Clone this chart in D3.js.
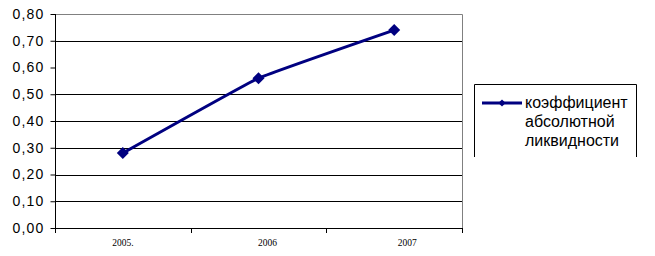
<!DOCTYPE html>
<html>
<head>
<meta charset="utf-8">
<script src="https://cdn.jsdelivr.net/npm/d3@7"></script>
<style>
  body { margin: 0; background: #fff; }
  svg { display: block; }
</style>
</head>
<body>
<svg id="chart" width="655" height="256"></svg>
<script>
// ----------- DATA -----------
const years = ["2005.", "2006", "2007"];
const values = [0.28, 0.56, 0.74];
const yTicks = [0, 0.1, 0.2, 0.3, 0.4, 0.5, 0.6, 0.7, 0.8];
const seriesName = ["коэффициент", "абсолютной", "ликвидности"];

// ----------- CHART -----------
const svg = d3.select("#chart");
const plotLeft = 55, plotRight = 462, plotTop = 14, plotBottom = 228;

const x = d3.scaleBand().domain(years).range([plotLeft, plotRight]);
const y = d3.scaleLinear().domain([0, 0.8]).range([plotBottom, plotTop]);

// grid lines (the 0,60 line does not show in the original)
svg.selectAll("line.grid")
  .data(yTicks.filter(d => d > 0 && d < 0.8 && Math.abs(d - 0.6) > 1e-9))
  .enter()
  .append("line")
  .attr("x1", plotLeft)
  .attr("x2", plotRight)
  .attr("y1", d => Math.round(y(d)) + 0.5)
  .attr("y2", d => Math.round(y(d)) + 0.5)
  .attr("stroke", "#000");

// plot area border, top and right
svg.append("path")
  .attr("d", `M${plotLeft},${plotTop + 0.5}H${plotRight + 0.5}V${plotBottom}`)
  .attr("fill", "none")
  .attr("stroke", "#808080");

// y axis
const yAxis = svg.append("g")
  .attr("transform", `translate(${plotLeft + 0.5},0)`)
  .call(d3.axisLeft(y).tickValues(yTicks).tickSize(5).tickPadding(6)
    .tickFormat(d => d3.format(".2f")(d).replace(".", ",")));
yAxis.select(".domain").attr("stroke", "#000").attr("d", `M0,${plotTop}V${plotBottom}`);
yAxis.selectAll(".tick line").attr("stroke", "#000");
yAxis.selectAll(".tick text")
  .attr("font-family", "Arial, 'Liberation Sans', sans-serif")
  .attr("font-size", 14)
  .attr("letter-spacing", 1.2)
  .attr("fill", "#000");

// x axis
const xAxis = svg.append("g")
  .attr("transform", `translate(0,${plotBottom + 0.5})`)
  .call(d3.axisBottom(x).tickSize(0).tickPadding(11));
xAxis.select(".domain").attr("stroke", "#000").attr("d", `M${plotLeft},0H${plotRight + 1}`);
xAxis.selectAll(".tick text")
  .attr("font-family", "'Times New Roman', 'Liberation Serif', serif")
  .attr("font-size", 9.5)
  .attr("fill", "#000")
  .attr("dx", (d, i) => [0, 9, 13][i]);

// category separators on the x axis
const edges = years.map(d => x(d)).concat([x(years[years.length - 1]) + x.bandwidth()]);
svg.selectAll("line.xtick")
  .data(edges)
  .enter()
  .append("line")
  .attr("x1", d => Math.round(d) + 0.5)
  .attr("x2", d => Math.round(d) + 0.5)
  .attr("y1", plotBottom)
  .attr("y2", plotBottom + 5)
  .attr("stroke", "#000");

// series line, lightly smoothed
const line = d3.line()
  .x((d, i) => x(years[i]) + x.bandwidth() / 2)
  .y(d => y(d))
  .curve(d3.curveCardinal.tension(0.75));

svg.append("path")
  .datum(values)
  .attr("d", line)
  .attr("fill", "none")
  .attr("stroke", "#000080")
  .attr("stroke-width", 3);

const diamond = d3.symbol().type(d3.symbolSquare).size(72);
svg.selectAll("path.marker")
  .data(values)
  .enter()
  .append("path")
  .attr("d", diamond)
  .attr("transform", (d, i) => `translate(${x(years[i]) + x.bandwidth() / 2},${y(d)}) rotate(45)`)
  .attr("fill", "#000080");

// ----------- LEGEND -----------
const legend = svg.append("g");
legend.append("path")
  .attr("d", "M474.5,157V84.5H636.5V157")
  .attr("fill", "none")
  .attr("stroke", "#000");

legend.append("line")
  .attr("x1", 482).attr("x2", 522)
  .attr("y1", 103).attr("y2", 103)
  .attr("stroke", "#000080")
  .attr("stroke-width", 3);

legend.append("path")
  .attr("d", d3.symbol().type(d3.symbolSquare).size(26))
  .attr("transform", "translate(502,103) rotate(45)")
  .attr("fill", "#000080");

legend.selectAll("text")
  .data(seriesName)
  .enter()
  .append("text")
  .attr("x", 525)
  .attr("y", (d, i) => 108 + i * 19)
  .attr("font-family", "Arial, 'Liberation Sans', sans-serif")
  .attr("font-size", 16)
  .attr("fill", "#000")
  .text(d => d);
</script>
</body>
</html>
